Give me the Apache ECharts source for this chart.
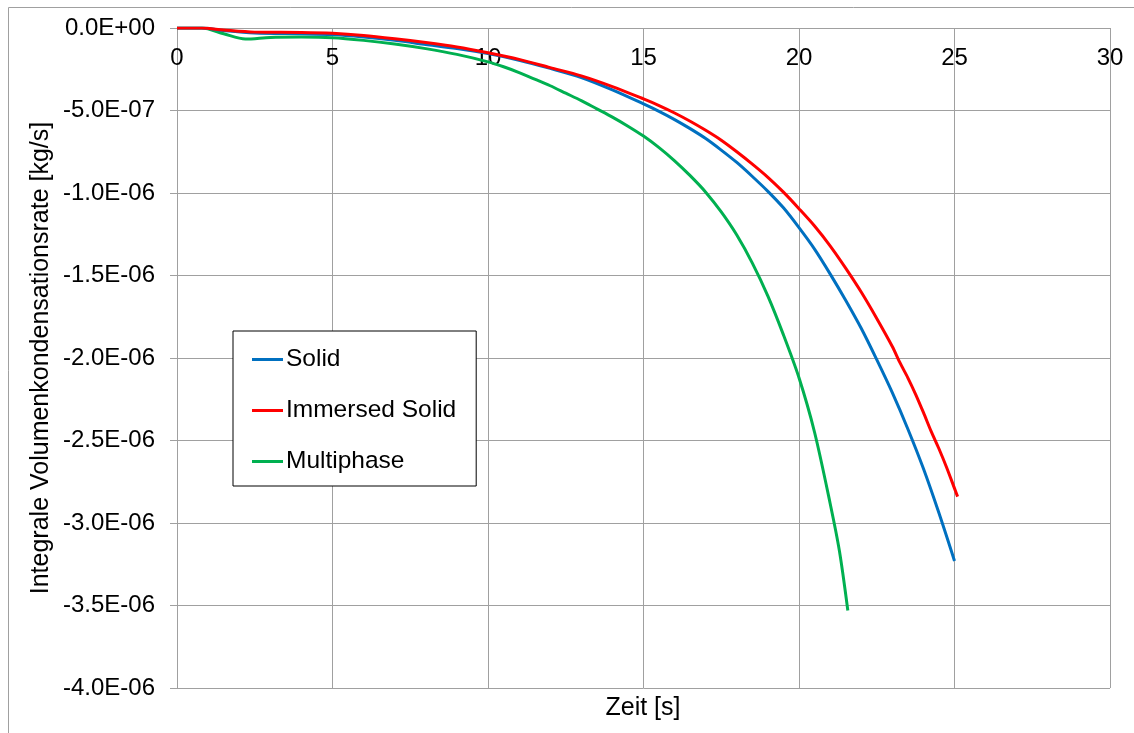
<!DOCTYPE html>
<html>
<head>
<meta charset="utf-8">
<script src="https://cdn.jsdelivr.net/npm/echarts@6/dist/echarts.min.js"></script>
<style>
html,body{margin:0;padding:0;background:#fff;}
#chart{width:1134px;height:733px;}
</style>
</head>
<body>
<div id="chart"></div>
<script>
// ---- data (y values in units of 1e-6 kg/s) ----
const seriesNames = ['Solid', 'Immersed Solid', 'Multiphase'];
const solidX = [0,0.8,1.5,2.5,4,5,6,7,8,9,10,11,12,13,14,15,15.5,16,16.5,17,17.5,18,18.5,19,19.5,20,20.5,21,21.5,22,22.5,23,23.5,24,24.5,25];
const solidY = [0,0,-0.015,-0.03,-0.035,-0.04,-0.055,-0.075,-0.1,-0.125,-0.155,-0.195,-0.245,-0.3,-0.375,-0.46,-0.505,-0.555,-0.61,-0.67,-0.74,-0.815,-0.9,-0.99,-1.09,-1.21,-1.34,-1.49,-1.65,-1.82,-2.01,-2.21,-2.43,-2.67,-2.94,-3.23];
const immersedX = [0,0.8,1.5,2.5,4,5,6,7,8,9,10,11,12,13,14,15,15.5,16,16.5,17,17.5,18,18.5,19,19.5,20,20.5,21,21.5,22,22.5,23,23.25,23.5,23.75,24,24.25,24.5,24.75,25,25.1];
const immersedY = [0,0,-0.012,-0.025,-0.027,-0.032,-0.045,-0.065,-0.088,-0.115,-0.15,-0.19,-0.24,-0.29,-0.355,-0.43,-0.47,-0.515,-0.565,-0.62,-0.68,-0.75,-0.825,-0.905,-0.995,-1.095,-1.2,-1.32,-1.455,-1.6,-1.76,-1.93,-2.03,-2.12,-2.22,-2.33,-2.445,-2.55,-2.665,-2.79,-2.84];
const multiX = [0,0.8,1.5,2.2,3,4,5,6,7,8,9,10,10.5,11,11.5,12,12.5,13,13.5,14,14.5,15,15.5,16,16.5,17,17.5,18,18.5,19,19.5,20,20.5,21,21.3,21.57];
const multiY = [0,0,-0.035,-0.067,-0.057,-0.055,-0.059,-0.075,-0.097,-0.125,-0.16,-0.205,-0.235,-0.27,-0.31,-0.35,-0.395,-0.44,-0.49,-0.54,-0.595,-0.655,-0.725,-0.805,-0.895,-0.995,-1.115,-1.255,-1.425,-1.625,-1.86,-2.12,-2.45,-2.88,-3.17,-3.53];
const xTickLabels = ['0','5','10','15','20','25','30'];
const yTickLabels = ['-4.0E-06','-3.5E-06','-3.0E-06','-2.5E-06','-2.0E-06','-1.5E-06','-1.0E-06','-5.0E-07','0.0E+00'];
const colors = ['#0070C0', '#FF0000', '#00B050'];
const xName = 'Zeit [s]';
const yName = 'Integrale Volumenkondensationsrate [kg/s]';

const FONT = 'Liberation Sans, Arial, sans-serif';
const GRID_COLOR = '#a0a0a0';
const Y_MIN = -4, Y_MAX = 0, Y_INT = 0.5;

function pairs(xs, ys) { return xs.map((x, i) => [x, ys[i]]); }

const chart = echarts.init(document.getElementById('chart'), null, {renderer: 'canvas'});
const option = {
  backgroundColor: '#fff',
  animation: false,
  color: colors,
  grid: {left: 177, right: 24, top: 28, bottom: 45, containLabel: false},
  xAxis: {
    type: 'value', min: 0, max: 30, interval: 5, position: 'top',
    axisLine: {show: true, lineStyle: {color: GRID_COLOR, width: 1}},
    axisTick: {show: false},
    axisLabel: {inside: true, margin: 18, fontSize: 24, color: '#000', fontFamily: FONT,
      formatter: (v) => xTickLabels[Math.round(v / 5)]},
    splitLine: {show: true, lineStyle: {color: GRID_COLOR, width: 1}}
  },
  yAxis: {
    type: 'value', min: Y_MIN, max: Y_MAX, interval: Y_INT,
    axisLine: {show: true, onZero: false, lineStyle: {color: GRID_COLOR, width: 1}},
    axisTick: {show: true, length: 7, lineStyle: {color: GRID_COLOR}},
    axisLabel: {margin: 22, fontSize: 24, color: '#000', fontFamily: FONT,
      formatter: (v) => yTickLabels[Math.round((v - Y_MIN) / Y_INT)]},
    splitLine: {show: true, lineStyle: {color: GRID_COLOR, width: 1}}
  },
  legend: {
    orient: 'vertical', left: 233, top: 331,
    padding: [16, 20, 12, 19],
    itemGap: 26, itemWidth: 31, itemHeight: 3, icon: 'rect',
    borderColor: '#000', borderWidth: 1, backgroundColor: '#fff',
    textStyle: {fontSize: 24.5, color: '#000', fontFamily: FONT, lineHeight: 25, padding: [0,0,0,-2]},
    data: seriesNames
  },
  graphic: [
    {type: 'rect', shape: {x: 8.5, y: 7.5, width: 1400, height: 1000}, silent: true, z: -10,
      style: {fill: 'none', stroke: GRID_COLOR, lineWidth: 1}},
    {type: 'text', x: 41, y: 358, rotation: Math.PI / 2,
      style: {text: yName, fontSize: 25, fontFamily: FONT, fill: '#000', align: 'center', verticalAlign: 'middle'}},
    {type: 'text', x: 643, y: 708,
      style: {text: xName, fontSize: 25, fontFamily: FONT, fill: '#000', align: 'center', verticalAlign: 'middle'}}
  ],
  series: [
    {name: seriesNames[0], type: 'line', data: pairs(solidX, solidY), showSymbol: false, smooth: 0.3,
      lineStyle: {width: 3, color: colors[0]}, z: 3},
    {name: seriesNames[1], type: 'line', data: pairs(immersedX, immersedY), showSymbol: false, smooth: 0.3,
      lineStyle: {width: 3, color: colors[1]}, z: 4},
    {name: seriesNames[2], type: 'line', data: pairs(multiX, multiY), showSymbol: false, smooth: 0.3,
      lineStyle: {width: 3, color: colors[2]}, z: 2}
  ]
};
chart.setOption(option);
</script>
</body>
</html>
